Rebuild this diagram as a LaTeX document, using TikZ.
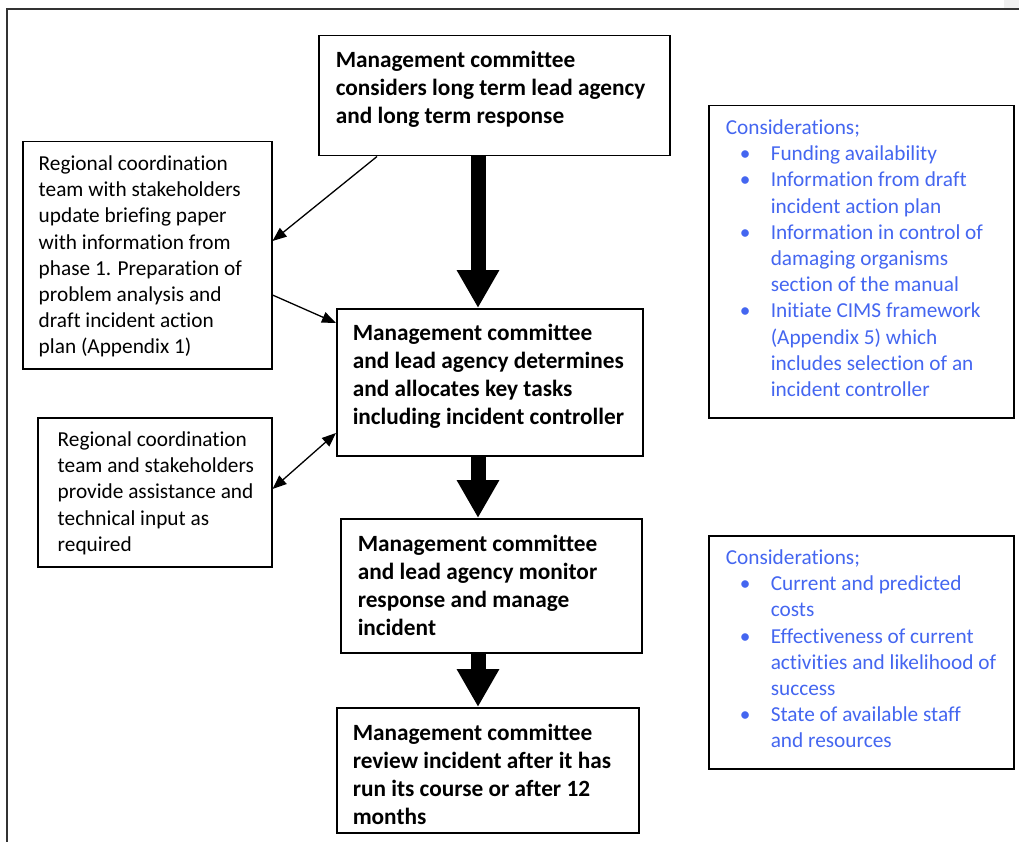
\documentclass[tikz,border=0pt]{standalone}
\usepackage{fontspec}
\setmainfont[Ligatures=NoCommon]{Carlito}
\usetikzlibrary{arrows.meta}

\definecolor{consblue}{HTML}{4466F0}
\definecolor{framegray}{HTML}{333333}

% width, height, left pad, top pad, text: a top-aligned text block filling a box
\newcommand{\boxtext}[5]{%
  \begin{minipage}[c][#2][t]{#1}\raggedright\leftskip=#3\relax
  \vspace*{#4}\strut#5\end{minipage}}
% bullet item for the consideration lists
\newcommand{\itm}{\hspace*{14pt}\makebox[31pt][l]{\textbullet}}
\newcommand{\cnt}{\hspace*{45pt}}

\begin{document}
\begin{tikzpicture}[x=1pt,y=-1pt,
  box/.style={draw=black, line width=1.5pt, anchor=north west, inner sep=0pt},
  reg/.style={font=\fontsize{21.3}{26.2}\selectfont},
  bld/.style={font=\fontsize{23.3}{28}\selectfont\bfseries},
  cons/.style={box, reg, text=consblue},
  conn/.style={line width=1.3pt, -{Triangle[length=14pt,width=11pt]}},
  conn2/.style={line width=1.3pt, {Triangle[length=14pt,width=11pt]}-{Triangle[length=14pt,width=11pt]}},
  big/.style={line width=15pt, -{Triangle[length=38pt,width=40pt]}}
]
\useasboundingbox (0,0) rectangle (1019,842);
\fill[gray!12] (1004,0) rectangle (1019,8.5);

% page frame
\draw[framegray, line width=2pt] (7,842) -- (7,9.5) -- (1019,9.5);

% main flow
\node[box,bld] (a) at (318,35) {\boxtext{351pt}{120pt}{17pt}{12pt}{Management committee\\considers long term lead agency\\and long term response}};
\node[box,bld] (c) at (336,308) {\boxtext{306pt}{147pt}{16pt}{12pt}{Management committee\\and lead agency determines\\and allocates key tasks\\including incident controller}};
\node[box,bld] (e) at (340,518) {\boxtext{301pt}{134pt}{17pt}{13pt}{Management committee\\and lead agency monitor\\response and manage\\incident}};
\node[box,bld] (f) at (336,707) {\boxtext{302pt}{125pt}{16pt}{13pt}{Management committee\\review incident after it has\\run its course or after 12\\months}};

% supporting boxes
\node[box,reg] (b) at (22,141) {\boxtext{249pt}{227pt}{16pt}{10.4pt}{Regional coordination\\team with stakeholders\\update briefing paper\\with information from\\phase 1. Preparation of\\problem analysis and\\draft incident action\\plan (Appendix 1)}};
\node[box,reg] (d) at (37,417) {\boxtext{234pt}{149pt}{20pt}{10.4pt}{Regional coordination\\team and stakeholders\\provide assistance and\\technical input as\\required}};

% considerations
\node[cons] (k1) at (708,105) {\boxtext{305pt}{312pt}{17pt}{10.4pt}{Considerations;\\
\itm Funding availability\\
\itm Information from draft\\
\cnt incident action plan\\
\itm Information in control of\\
\cnt damaging organisms\\
\cnt section of the manual\\
\itm Initiate CIMS framework\\
\cnt (Appendix 5) which\\
\cnt includes selection of an\\
\cnt incident controller}};
\node[cons] (k2) at (708,535) {\boxtext{305pt}{233pt}{17pt}{10.4pt}{Considerations;\\
\itm Current and predicted\\
\cnt costs\\
\itm Effectiveness of current\\
\cnt activities and likelihood of\\
\cnt success\\
\itm State of available staff\\
\cnt and resources}};

% thick flow arrows
\coordinate (ax) at (478,0);
\draw[big] (a.south -| ax) -- (c.north -| ax);
\draw[big] (c.south -| ax) -- (e.north -| ax);
\draw[big] (e.south -| ax) -- (f.north -| ax);

% thin connectors
\draw[conn] ([xshift=59pt]a.south west) -- ([yshift=-100pt]b.north east);
\draw[conn] ([yshift=-154pt]b.north east) -- ([yshift=-15pt]c.north west);
\draw[conn2] ([yshift=-72pt]d.north east) -- ([yshift=-125pt]c.north west);
\end{tikzpicture}
\end{document}
